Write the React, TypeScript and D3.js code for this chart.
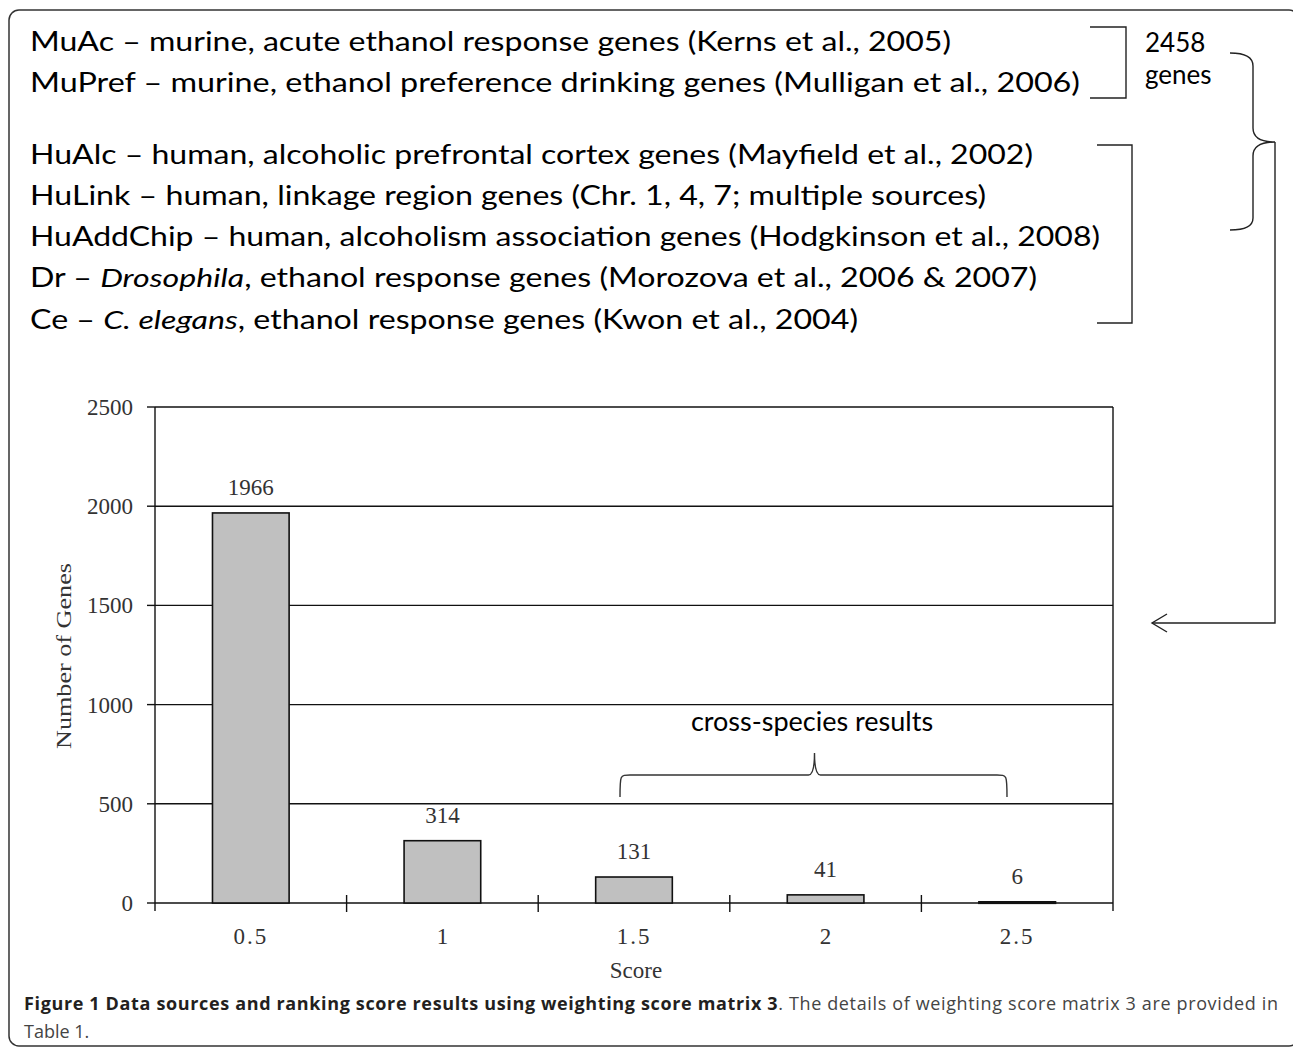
import React from "react";
import * as d3 from "d3";

const sourceLines = [
  { abbr: "MuAc", parts: [["", "murine, acute ethanol response genes (Kerns et al., 2005)"]], end: 951 },
  { abbr: "MuPref", parts: [["", "murine, ethanol preference drinking genes (Mulligan et al., 2006)"]], end: 1080 },
  { abbr: "HuAlc", parts: [["", "human, alcoholic prefrontal cortex genes (Mayfield et al., 2002)"]], end: 1033 },
  { abbr: "HuLink", parts: [["", "human, linkage region genes (Chr. 1, 4, 7; multiple sources)"]], end: 986 },
  { abbr: "HuAddChip", parts: [["", "human, alcoholism association genes (Hodgkinson et al., 2008)"]], end: 1100 },
  { abbr: "Dr", parts: [["i", "Drosophila"], ["", ", ethanol response genes (Morozova et al., 2006 & 2007)"]], end: 1037 },
  { abbr: "Ce", parts: [["i", "C. elegans"], ["", ", ethanol response genes (Kwon et al., 2004)"]], end: 858 },
];
const lineBaselines = [51, 92, 164, 205, 246, 287, 329];

const scores = ["0.5", "1", "1.5", "2", "2.5"];
const geneCounts = [1966, 314, 131, 41, 6];
const yTicks = [0, 500, 1000, 1500, 2000, 2500];

const PLOT = { left: 155, right: 1113, top: 407, bottom: 903 };

const App = () => {
  const x = d3
    .scaleBand()
    .domain(scores)
    .range([PLOT.left, PLOT.right])
    .paddingInner(0.6)
    .paddingOuter(0.3);
  const y = d3.scaleLinear().domain([0, 2500]).range([PLOT.bottom, PLOT.top]);
  const step = x.step();
  const boundaries = d3.range(scores.length + 1).map((i) => PLOT.left + i * step);

  const serif = "'Liberation Serif', serif";
  const sans = "Lato, 'Open Sans', sans-serif";

  // cross-species brace, over bars 1.5 .. 2.5
  const bx0 = 620;
  const bx1 = 1007;
  const bmid = (bx0 + bx1) / 2 + 1;
  const bTop = 775;
  const bBot = 797;
  const brace = `M${bx0},${bBot} C${bx0},${bTop} ${bx0},${bTop} ${bx0 + 10},${bTop} L${bmid - 6},${bTop} Q${bmid},${bTop} ${bmid},${bTop - 22} Q${bmid},${bTop} ${bmid + 6},${bTop} L${bx1 - 10},${bTop} C${bx1},${bTop} ${bx1},${bTop} ${bx1},${bBot}`;

  return (
    <svg
      width={1293}
      height={1048}
      style={{ position: "absolute", left: 0, top: 0, background: "#fff" }}
    >
      <rect x={9} y={10} width={1290} height={1036} rx={10} fill="none" stroke="#333" strokeWidth={1.5} />

      {/* source list */}
      {sourceLines.map((l, i) => (
        <text
          key={i}
          x={30}
          y={lineBaselines[i]}
          fontFamily={sans}
          fontSize={26}
          fill="#000"
          textLength={l.end - 30}
          lengthAdjust="spacingAndGlyphs"
        >
          {l.abbr + " – "}
          {l.parts.map((p, j) => (
            <tspan key={j} fontStyle={p[0] === "i" ? "italic" : "normal"}>
              {p[1]}
            </tspan>
          ))}
        </text>
      ))}

      {/* brackets */}
      <g fill="none" stroke="#222" strokeWidth={1.4}>
        <path d="M1090,27 H1126 V98 H1090" />
        <path d="M1097,145 H1132 V323 H1097" />
        <path d="M1230,53 Q1253,53 1253,66 V128 Q1253,142 1275,142 Q1253,142 1253,156 V218 Q1253,230 1230,230" />
        <path d="M1275,142 V623 H1152" />
        <path d="M1167,614 L1152,623 L1167,632" />
      </g>
      <text x={1145} y={52} fontFamily={sans} fontSize={26} fill="#000">2458</text>
      <text x={1145} y={84} fontFamily={sans} fontSize={26} fill="#000">genes</text>

      {/* gridlines */}
      {yTicks.map((t) => (
        <g key={t}>
          <line x1={PLOT.left} x2={PLOT.right} y1={y(t)} y2={y(t)} stroke="#111" strokeWidth={1.4} />
          <line x1={147} x2={PLOT.left} y1={y(t)} y2={y(t)} stroke="#111" strokeWidth={1.4} />
          <text
            x={133}
            y={y(t)}
            dy="0.35em"
            textAnchor="end"
            fontFamily={serif}
            fontSize={23}
            fill="#333"
          >
            {t}
          </text>
        </g>
      ))}
      <line x1={PLOT.left} x2={PLOT.left} y1={PLOT.top} y2={PLOT.bottom + 8} stroke="#111" strokeWidth={1.4} />
      <line x1={PLOT.right} x2={PLOT.right} y1={PLOT.top} y2={PLOT.bottom + 8} stroke="#111" strokeWidth={1.4} />
      {boundaries.slice(1, -1).map((b, i) => (
        <line key={i} x1={b} x2={b} y1={PLOT.bottom - 8} y2={PLOT.bottom + 9} stroke="#111" strokeWidth={1.4} />
      ))}

      {/* bars */}
      {scores.map((s, i) => {
        const v = geneCounts[i];
        const bx = x(s)!;
        const top = y(v);
        return (
          <g key={s}>
            <rect
              x={bx}
              y={top}
              width={x.bandwidth()}
              height={Math.max(PLOT.bottom - top, 1.5)}
              fill="#c0c0c0"
              stroke="#111"
              strokeWidth={1.6}
            />
            <text
              x={bx + x.bandwidth() / 2}
              y={top - 26}
              dy="0.35em"
              textAnchor="middle"
              fontFamily={serif}
              fontSize={23}
              fill="#333"
            >
              {v}
            </text>
            <text
              x={bx + x.bandwidth() / 2}
              y={936}
              dy="0.35em"
              textAnchor="middle"
              fontFamily={serif}
              fontSize={23}
              letterSpacing={s.includes(".") ? 2 : 0}
              fill="#333"
            >
              {s}
            </text>
          </g>
        );
      })}

      <text x={636} y={970} dy="0.35em" textAnchor="middle" fontFamily={serif} fontSize={23} fill="#333">
        Score
      </text>
      <text
        transform="translate(63,656) rotate(-90)"
        dy="0.35em"
        textAnchor="middle"
        fontFamily={serif}
        fontSize={22}
        fill="#333"
        textLength={186}
        lengthAdjust="spacingAndGlyphs"
      >
        Number of Genes
      </text>

      {/* cross-species annotation */}
      <path d={brace} fill="none" stroke="#333" strokeWidth={1.4} />
      <text x={812} y={722} dy="0.35em" textAnchor="middle" fontFamily={sans} fontSize={27} fill="#000">
        cross-species results
      </text>

      {/* caption */}
      <text
        x={24}
        y={1010}
        fontFamily="'Open Sans', sans-serif"
        fontSize={18}
        fill="#231f20"
        textLength={1254}
        lengthAdjust="spacing"
      >
        <tspan fontWeight="bold">
          Figure 1 Data sources and ranking score results using weighting score matrix 3
        </tspan>
        <tspan fill="#444">. The details of weighting score matrix 3 are provided in</tspan>
      </text>
      <text x={24} y={1038} fontFamily="'Open Sans', sans-serif" fontSize={18} fill="#444">
        Table 1.
      </text>
    </svg>
  );
};

export default App;
